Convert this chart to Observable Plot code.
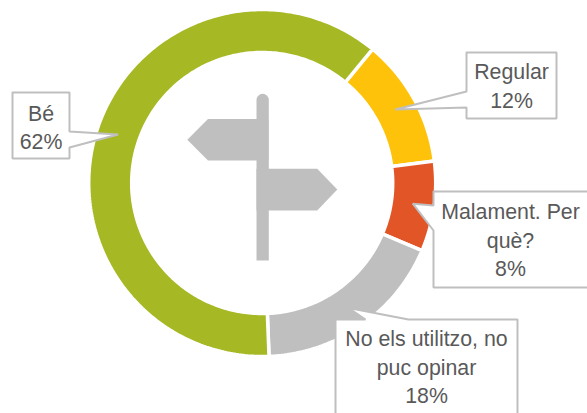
<!DOCTYPE html>
<html>
<head>
<meta charset="utf-8">
<script src="https://cdn.jsdelivr.net/npm/d3@7"></script>
<script src="https://cdn.jsdelivr.net/npm/@observablehq/plot@0.6"></script>
<style>html,body{margin:0;padding:0;background:#fff}svg{display:block}</style>
</head>
<body>
<script>
const categories = ["Regular", "Malament. Per què?", "No els utilitzo, no puc opinar", "Bé"];
const labelLines = ["Regular", "Malament. Per\nquè?", "No els utilitzo, no\npuc opinar", "Bé"];
// Slice sizes as read from the ring; the labels show them rounded
const shares = [12, 8.4, 18, 61.6];
const colors = ["#FFC20A", "#E25526", "#BFBFBF", "#A6B824"];

const W = 587, H = 413;
const cx = 261.7, cy = 182.5, rOuter = 173.5, rInner = 130.5, rTip = 152, startDeg = 39.5;
const polar = (r, deg) => {
  const a = deg * Math.PI / 180;
  return {x: cx + r * Math.sin(a), y: cy - r * Math.cos(a)};
};

// Ring slices and their mid-angles, from the shares
let acc = startDeg;
const slices = shares.map((v, i) => {
  const a0 = acc, a1 = acc + v * 3.6;
  acc = a1;
  return {category: categories[i], a0, a1, mid: (a0 + a1) / 2};
});
const ringPts = slices.flatMap(s => {
  const n = Math.ceil(s.a1 - s.a0);
  const angles = d3.range(n + 1).map(k => s.a0 + (s.a1 - s.a0) * k / n);
  const pts = [...angles.map(a => polar(rOuter, a)), ...angles.reverse().map(a => polar(rInner, a))];
  pts.push(pts[0]);
  return pts.map(p => ({...p, category: s.category}));
});

// Callout box layout: [left, top, right, bottom], and where the pointer joins the box
const boxes = [
  {box: [466, 52, 556, 118], side: "left", from: 91, to: 107, tx: 511, ty: 84},
  {box: [433, 191, 600, 287], side: "left", from: 205, to: 230, tx: 510, ty: 238},
  {box: [335, 319, 517, 430], side: "top", from: 365, to: 408, tx: 426, ty: 365},
  {box: [12, 92, 69, 158], side: "right", from: 131, to: 147, tx: 40.5, ty: 125.5}
];
const calloutPts = boxes.flatMap((b, i) => {
  const [l, t, r, bt] = b.box;
  const tip = polar(rTip, slices[i].mid);
  let p;
  if (b.side === "left") p = [[l, t], [r, t], [r, bt], [l, bt], [l, b.to], [tip.x, tip.y], [l, b.from], [l, t]];
  else if (b.side === "right") p = [[l, t], [r, t], [r, b.from], [tip.x, tip.y], [r, b.to], [r, bt], [l, bt], [l, t]];
  else p = [[l, t], [b.from, t], [tip.x, tip.y], [b.to, t], [r, t], [r, bt], [l, bt], [l, t]];
  return p.map(([x, y]) => ({x, y, id: i}));
});
const labels = boxes.map((b, i) => ({x: b.tx, y: b.ty, text: labelLines[i] + "\n" + Math.round(shares[i]) + "%"}));

// Signpost pictogram
const poleL = 256, poleR = 268.3, poleTop = 99.5, poleBottom = 260;
const capPts = d3.range(0, 181, 15).map(d => {
  const a = (180 - d) * Math.PI / 180;
  return [(poleL + poleR) / 2 + (poleR - poleL) / 2 * Math.cos(a), poleTop - (poleR - poleL) / 2 * Math.sin(a)];
});
const signShapes = [
  [...capPts, [poleR, poleBottom], [poleL, poleBottom]],
  [[268, 118.5], [207.5, 118.5], [186.8, 139.3], [207.5, 160], [268, 160]],
  [[256, 168.3], [316.7, 168.3], [336.8, 189], [316.7, 210], [256, 210]]
];
const signPts = signShapes.flatMap((s, id) => [...s, s[0]].map(([x, y]) => ({x, y, id})));

// Arial-Narrow-like look: tall glyphs, squeezed horizontally
const squeeze = (index, scales, values, dims, ctx, next) => {
  const g = next(index, scales, values, dims, ctx);
  g.querySelectorAll("text").forEach(t => t.setAttribute("transform", (t.getAttribute("transform") || "") + " scale(0.97,1)"));
  return g;
};

const chart = Plot.plot({
  width: W, height: H,
  margin: 0,
  x: {domain: [0, W], range: [0, W], axis: null},
  y: {domain: [0, H], range: [0, H], axis: null},
  color: {domain: categories, range: colors},
  style: {background: "#fff"},
  marks: [
    Plot.line(ringPts, {x: "x", y: "y", z: "category", fill: "category", stroke: "#fff", strokeWidth: 3.5, strokeLinejoin: "miter"}),
    Plot.line(signPts, {x: "x", y: "y", z: "id", fill: "#BFBFBF", stroke: "none"}),
    Plot.line(calloutPts, {x: "x", y: "y", z: "id", fill: "#fff", stroke: "#BFBFBF", strokeWidth: 2, strokeLinejoin: "miter"}),
    Plot.text(labels, {x: "x", y: "y", text: "text", fill: "#595959", fontSize: 22, lineHeight: 1.3, lineAnchor: "middle", textAnchor: "middle", fontFamily: "'Liberation Sans',Arial,sans-serif", render: squeeze})
  ]
});
document.body.appendChild(chart);
</script>
</body>
</html>
